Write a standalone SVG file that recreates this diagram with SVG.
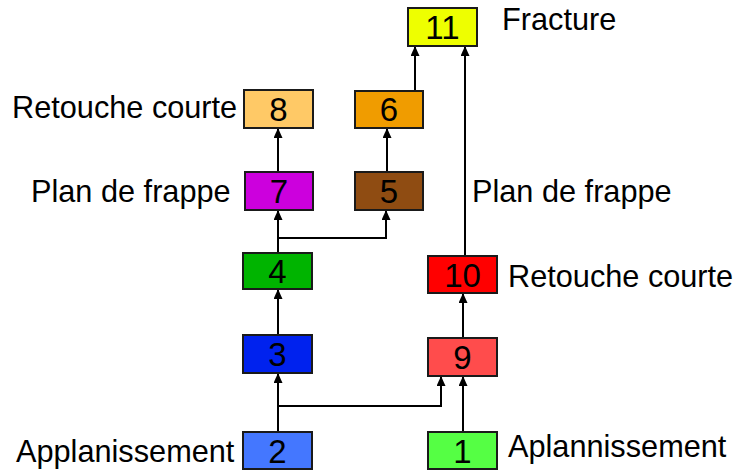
<svg xmlns="http://www.w3.org/2000/svg" width="736" height="470" viewBox="0 0 736 470">
<style>
.box{stroke:#1a1a1a;stroke-width:2}
.num{font-family:"Liberation Sans",Arial,sans-serif;font-size:33px;text-anchor:middle;fill:#000}
.lbl{font-family:"Liberation Sans",Arial,sans-serif;font-size:30.7px;fill:#000}
.con{fill:none;stroke:#000;stroke-width:2;marker-end:url(#arr)}
</style>
<defs>
<marker id="arr" markerUnits="userSpaceOnUse" markerWidth="10" markerHeight="9" refX="9" refY="4.5" orient="auto" viewBox="0 0 10 9">
<path d="M0,0 L10,4.5 L0,9 Z" fill="#000"/>
</marker>
</defs>
<rect width="736" height="470" fill="#fff"/>
<g id="connectors">
<path class="con" d="M278,172 V129"/>
<path class="con" d="M415,91 V47"/>
<path class="con" d="M465,256 V47"/>
<path class="con" d="M387,172 V129"/>
<path class="con" d="M278,253 V211"/>
<path class="con" d="M278,238 H386 V211"/>
<path class="con" d="M278,335 V290"/>
<path class="con" d="M278,432 V374"/>
<path class="con" d="M278,406 H441 V377"/>
<path class="con" d="M463,432 V377"/>
<path class="con" d="M463,338 V294"/>
</g>
<g id="n11"><rect class="box" x="408" y="8" width="69" height="38" fill="#eeff00"/><text class="num" x="442.5" y="39">11</text></g>
<g id="n8"><rect class="box" x="244" y="90" width="69" height="38" fill="#ffc966"/><text class="num" x="278.5" y="121">8</text></g>
<g id="n6"><rect class="box" x="355" y="91" width="68" height="37" fill="#f09c00"/><text class="num" x="389" y="121">6</text></g>
<g id="n7"><rect class="box" x="245" y="172" width="68" height="38" fill="#cc00dd"/><text class="num" x="279" y="203">7</text></g>
<g id="n5"><rect class="box" x="355" y="172" width="68" height="38" fill="#8f4c12"/><text class="num" x="389" y="203">5</text></g>
<g id="n4"><rect class="box" x="243" y="253" width="69" height="36" fill="#00b400"/><text class="num" x="277.5" y="283">4</text></g>
<g id="n10"><rect class="box" x="428" y="256" width="69" height="37" fill="#ff0000"/><text class="num" x="462.5" y="287">10</text></g>
<g id="n3"><rect class="box" x="243" y="335" width="69" height="38" fill="#0022ee"/><text class="num" x="277.5" y="366">3</text></g>
<g id="n9"><rect class="box" x="428" y="338" width="69" height="38" fill="#ff4c4c"/><text class="num" x="462.5" y="369">9</text></g>
<g id="n2"><rect class="box" x="243" y="432" width="69" height="37" fill="#4477ff"/><text class="num" x="277.5" y="463">2</text></g>
<g id="n1"><rect class="box" x="428" y="432" width="69" height="37" fill="#55ff44"/><text class="num" x="462.5" y="463">1</text></g>
<g id="labels">
<text class="lbl" x="12" y="118">Retouche courte</text>
<text class="lbl" x="31" y="202">Plan de frappe</text>
<text class="lbl" x="16" y="462">Applanissement</text>
<text class="lbl" x="502" y="30">Fracture</text>
<text class="lbl" x="472" y="202">Plan de frappe</text>
<text class="lbl" x="508" y="287">Retouche courte</text>
<text class="lbl" x="508" y="457">Aplannissement</text>
</g>
</svg>
